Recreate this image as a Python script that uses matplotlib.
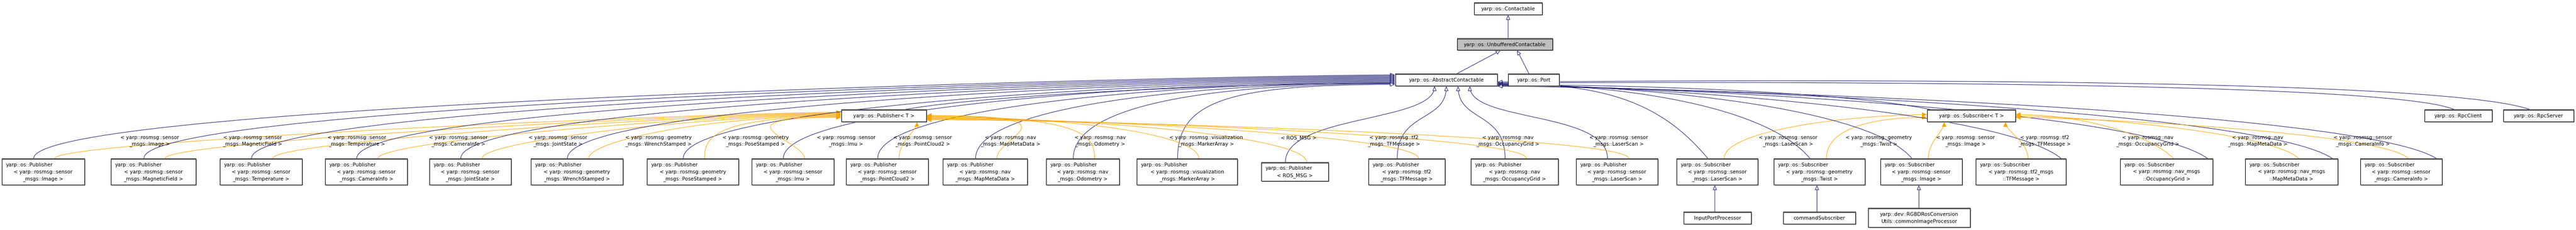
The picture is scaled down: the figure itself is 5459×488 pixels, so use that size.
import matplotlib
matplotlib.use("Agg")
import matplotlib.pyplot as plt
from matplotlib.patches import Rectangle, FancyArrowPatch
from matplotlib.path import Path

# ---------------- data ----------------
pub_boxes = [
    "< yarp::rosmsg::sensor\n_msgs::Image >",
    "< yarp::rosmsg::sensor\n_msgs::MagneticField >",
    "< yarp::rosmsg::sensor\n_msgs::Temperature >",
    "< yarp::rosmsg::sensor\n_msgs::CameraInfo >",
    "< yarp::rosmsg::sensor\n_msgs::JointState >",
    "< yarp::rosmsg::geometry\n_msgs::WrenchStamped >",
    "< yarp::rosmsg::geometry\n_msgs::PoseStamped >",
    "< yarp::rosmsg::sensor\n_msgs::Imu >",
    "< yarp::rosmsg::sensor\n_msgs::PointCloud2 >",
    "< yarp::rosmsg::nav\n_msgs::MapMetaData >",
    "< yarp::rosmsg::nav\n_msgs::Odometry >",
    "< yarp::rosmsg::visualization\n_msgs::MarkerArray >",
    "< ROS_MSG >",
    "< yarp::rosmsg::tf2\n_msgs::TFMessage >",
    "< yarp::rosmsg::nav\n_msgs::OccupancyGrid >",
    "< yarp::rosmsg::sensor\n_msgs::LaserScan >",
]
pub_edge_labels = [
    "< yarp::rosmsg::sensor\n_msgs::Image >",
    "< yarp::rosmsg::sensor\n_msgs::MagneticField >",
    "< yarp::rosmsg::sensor\n_msgs::Temperature >",
    "< yarp::rosmsg::sensor\n_msgs::CameraInfo >",
    "< yarp::rosmsg::sensor\n_msgs::JointState >",
    "< yarp::rosmsg::geometry\n_msgs::WrenchStamped >",
    "< yarp::rosmsg::geometry\n_msgs::PoseStamped >",
    "< yarp::rosmsg::sensor\n_msgs::Imu >",
    "< yarp::rosmsg::sensor\n_msgs::PointCloud2 >",
    "< yarp::rosmsg::nav\n_msgs::MapMetaData >",
    "< yarp::rosmsg::nav\n_msgs::Odometry >",
    "< yarp::rosmsg::visualization\n_msgs::MarkerArray >",
    "< ROS_MSG >",
    "< yarp::rosmsg::tf2\n_msgs::TFMessage >",
    "< yarp::rosmsg::nav\n_msgs::OccupancyGrid >",
    "< yarp::rosmsg::sensor\n_msgs::LaserScan >",
]
sub_boxes = [
    "< yarp::rosmsg::sensor\n_msgs::LaserScan >",
    "< yarp::rosmsg::geometry\n_msgs::Twist >",
    "< yarp::rosmsg::sensor\n_msgs::Image >",
    "< yarp::rosmsg::tf2_msgs\n::TFMessage >",
    "< yarp::rosmsg::nav_msgs\n::OccupancyGrid >",
    "< yarp::rosmsg::nav_msgs\n::MapMetaData >",
    "< yarp::rosmsg::sensor\n_msgs::CameraInfo >",
]
sub_edge_labels = [
    "< yarp::rosmsg::sensor\n_msgs::LaserScan >",
    "< yarp::rosmsg::geometry\n_msgs::Twist >",
    "< yarp::rosmsg::sensor\n_msgs::Image >",
    "< yarp::rosmsg::tf2\n_msgs::TFMessage >",
    "< yarp::rosmsg::nav\n_msgs::OccupancyGrid >",
    "< yarp::rosmsg::nav\n_msgs::MapMetaData >",
    "< yarp::rosmsg::sensor\n_msgs::CameraInfo >",
]
leaf_boxes = ["InputPortProcessor", "commandSubscriber",
              "yarp::dev::RGBDRosConversion\nUtils::commonImageProcessor"]

# ---------------- layout ----------------
W, H = 5459, 489
pub_x = [(4, 179), (235, 415), (466, 640), (689, 863), (910, 1083), (1125, 1320),
         (1371, 1565), (1593, 1767), (1793, 1967), (1998, 2177), (2217, 2372),
         (2409, 2622), (2673, 2815), (2900, 3062), (3117, 3302), (3340, 3513)]
pub_lx = [317, 535, 756, 971, 1182, 1395, 1601, 1793, 1955, 2141, 2331, 2556,
          2752, 2954, 3195, 3430]
sub_x = [(3553, 3725), (3759, 3952), (3985, 4158), (4187, 4378), (4493, 4689),
         (4758, 4954), (5002, 5175)]
sub_lx = [3789, 3981, 4165, 4333, 4551, 4784, 5007]
leaf_xy = [(3568, 3711, 450, 476), (3779, 3932, 450, 476), (3959, 4175, 442, 483)]
leaf_parent = [0, 1, 2]

BLUE = "#191970"
ORANGE = "#FFA500"
FS = 7.6
LW = 0.75

fig = plt.figure(figsize=(W / 100, H / 100), dpi=100)
ax = fig.add_axes([0, 0, 1, 1])
ax.set_xlim(0, W)
ax.set_ylim(H, 0)
ax.axis("off")


def box(x0, x1, y0, y1, text, fill="white", first_left=True):
    ax.add_patch(Rectangle((x0 + 2, y0 + 2), x1 - x0, y1 - y0, fc="#bbbbbb", ec="none", zorder=2))
    ax.add_patch(Rectangle((x0, y0), x1 - x0, y1 - y0, fc=fill, ec="black", lw=0.9, zorder=3))
    ax.plot([x0, x1], [y0 + 1, y0 + 1], color="#555555", lw=2.0, zorder=4, solid_capstyle="butt")
    lines = text.split("\n")
    n = len(lines)
    lh = 15
    ys = [(y0 + y1) / 2 + (i - (n - 1) / 2) * lh for i in range(n)]
    for i, (ln, yy) in enumerate(zip(lines, ys)):
        if first_left and i == 0 and n > 1:
            ax.text(x0 + 9, yy, ln, ha="left", va="center", fontsize=FS, zorder=5)
        else:
            ax.text((x0 + x1) / 2, yy, ln, ha="center", va="center", fontsize=FS, zorder=5)


def curve(p0, c1, c2, p1, color, open_head, lw=LW):
    path = Path([p0, c1, c2, p1], [Path.MOVETO, Path.CURVE4, Path.CURVE4, Path.CURVE4])
    if open_head:
        a = FancyArrowPatch(path=path, arrowstyle="-|>,head_length=6,head_width=2.6",
                            fc="white", ec=color, lw=lw, zorder=1)
    else:
        a = FancyArrowPatch(path=path, arrowstyle="-|>,head_length=6,head_width=3",
                            fc=color, ec=color, lw=lw, zorder=1)
    ax.add_patch(a)


# top hierarchy
CON = (3124, 3268, 6, 32)
UNB = (3088, 3290, 82, 107)
ABS = (2957, 3173, 157, 183)
PORT = (3196, 3304, 157, 183)
PUBT = (1783, 1963, 233, 259)
SUBT = (4084, 4271, 233, 259)
RPCC = (5138, 5281, 233, 259)
RPCS = (5305, 5454, 233, 259)

box(*CON, "yarp::os::Contactable")
box(*UNB, "yarp::os::UnbufferedContactable", fill="#bfbfbf")
box(*ABS, "yarp::os::AbstractContactable")
box(*PORT, "yarp::os::Port")
box(*PUBT, "yarp::os::Publisher< T >")
box(*SUBT, "yarp::os::Subscriber< T >")
box(*RPCC, "yarp::os::RpcClient")
box(*RPCS, "yarp::os::RpcServer")

def straight(p0, p1, color=BLUE):
    c1 = (p0[0] + (p1[0] - p0[0]) / 3, p0[1] + (p1[1] - p0[1]) / 3)
    c2 = (p0[0] + 2 * (p1[0] - p0[0]) / 3, p0[1] + 2 * (p1[1] - p0[1]) / 3)
    curve(p0, c1, c2, p1, color, True)

straight((3196, 82), (3196, 33))
straight((3088, 157), (3180, 108))
straight((3240, 157), (3215, 108))

# Publisher<T> and Subscriber<T> -> AbstractContactable
curve((1920, 233), (2100, 200), (2700, 175), (2956, 178), BLUE, True)
curve((4090, 233), (3900, 195), (3450, 180), (3174, 181), BLUE, True)
curve((5200, 233), (5050, 170), (3600, 175), (3174, 177), BLUE, True)
curve((5360, 233), (5150, 160), (3600, 172), (3174, 175), BLUE, True)

# publisher instances
for i, (txt, lab) in enumerate(zip(pub_boxes, pub_edge_labels)):
    x0, x1 = pub_x[i]
    if txt == "< ROS_MSG >":
        y0, y1 = 345, 385
    else:
        y0, y1 = 337, 393
    box(x0, x1, y0, y1, "yarp::os::Publisher\n" + txt)
    cx = (x0 + x1) / 2
    sx, sy = cx - 20, y0
    if x1 < 2700:
        ey = 160 + 22 * i / 12
        curve((sx, sy), (sx, sy - 120), (2600, ey), (2956, ey), BLUE, True)
    else:
        ex = 3040 + (i - 12) * 25
        curve((sx, sy), (sx, sy - 100), (ex, 260), (ex, 184), BLUE, True)
    ox = cx + 25
    if cx < 1750:
        ey = 244 + (i - 3) * 1.5
        curve((ox, y0), (ox, 300), (1500, ey), (1782, ey), ORANGE, False)
    elif cx < 2000:
        ex = 1843 if cx < 1800 else 1943
        curve((ox, y0), (ox, 300), (ex, 280), (ex, 260), ORANGE, False)
    else:
        ey = 246 + (i - 9) * 1.5
        curve((ox, y0), (ox, 290), (2300, ey), (1964, ey), ORANGE, False)
    ax.text(pub_lx[i], 299 if "\n" in lab else 293, lab, ha="center", va="center",
            fontsize=FS, linespacing=1.4, zorder=5)

# subscriber instances
for i, (txt, lab) in enumerate(zip(sub_boxes, sub_edge_labels)):
    x0, x1 = sub_x[i]
    y0, y1 = 337, 393
    box(x0, x1, y0, y1, "yarp::os::Subscriber\n" + txt)
    cx = (x0 + x1) / 2
    sx = cx - 20 if i < 3 else x1
    sy = y0 if i < 3 else y0 + 10
    ey = 178 + i
    curve((sx, sy), (sx - 100, sy - 120), (3400, ey), (3174, ey), BLUE, True)
    ox = cx + 15
    if i == 0:
        curve((ox, y0), (ox, 280), (3900, 246), (4083, 244), ORANGE, False)
    elif i == 1:
        curve((ox, y0), (ox, 280), (3950, 250), (4083, 250), ORANGE, False)
    elif i in (2, 3):
        ex = 4120 if i == 2 else 4250
        curve((ox, y0), (ox, 300), (ex, 280), (ex, 260), ORANGE, False)
    else:
        ey = 244 + (i - 4) * 3
        curve((ox, y0), (ox - 60, 280), (4400, ey), (4272, ey), ORANGE, False)
    ax.text(sub_lx[i], 299, lab, ha="center", va="center", fontsize=FS,
            linespacing=1.4, zorder=5)

# leaf classes
for (x0, x1, y0, y1), txt, p in zip(leaf_xy, leaf_boxes, leaf_parent):
    box(x0, x1, y0, y1, txt, first_left=False)
    px = (sub_x[p][0] + sub_x[p][1]) / 2 - 5
    straight((px, y0), (px, 394))

fig.savefig("out.png", dpi=100)
